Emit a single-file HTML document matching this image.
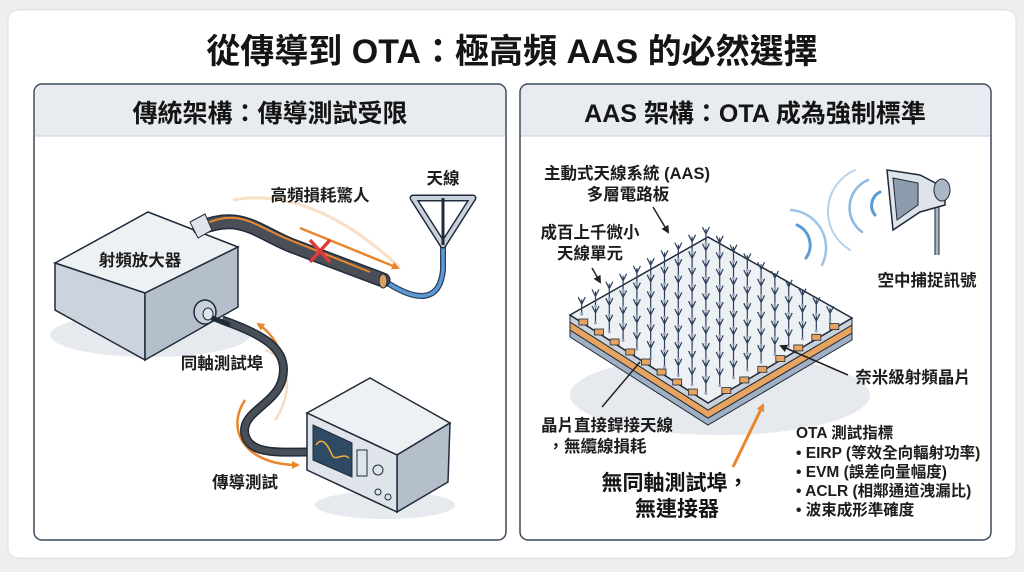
<!DOCTYPE html>
<html><head><meta charset="utf-8"><style>
html,body{margin:0;padding:0;background:#eceef0;}
svg{display:block;font-family:"Liberation Sans","Noto Sans CJK TC",sans-serif;}
.l{font-size:16.5px;font-weight:700;fill:#1d1d1d;}
</style></head><body>
<svg id="s" width="1024" height="572" viewBox="0 0 1024 572" xmlns="http://www.w3.org/2000/svg">
<defs>
<marker id="ao" markerWidth="8" markerHeight="8" refX="6" refY="4" orient="auto" markerUnits="userSpaceOnUse"><path d="M0,0 L8,4 L0,8 z" fill="#e8872e"/></marker>
<marker id="ak" markerWidth="8" markerHeight="8" refX="6" refY="4" orient="auto" markerUnits="userSpaceOnUse"><path d="M0,0 L8,4 L0,8 z" fill="#222"/></marker>
<g id="y"><path d="M0,0 V-15 M0,-10 L-3.5,-17 M0,-10 L3.5,-17" stroke="#2c3e5c" stroke-width="1.2" fill="none"/><circle cx="0" cy="0" r="1.5" fill="#9aa8b8"/></g>
</defs>
<rect x="8" y="10" width="1008" height="548" rx="10" fill="#fff" stroke="#dde0e3"/>
<text x="512" y="63" text-anchor="middle" font-size="34" font-weight="700" fill="#151515">從傳導到 OTA：極高頻 AAS 的必然選擇</text>

<rect x="34" y="84" width="472" height="456" rx="8" fill="#fff" stroke="#3c4a5c" stroke-width="1.5"/>
<path d="M35,136 V92 a7,7 0 0 1 7,-7 H498 a7,7 0 0 1 7,7 V136 z" fill="#e8ecf0"/>
<line x1="35" y1="136" x2="505" y2="136" stroke="#c7ced6"/>
<text x="270" y="122" text-anchor="middle" font-size="25" font-weight="700" fill="#151515">傳統架構：傳導測試受限</text>
<rect x="520" y="84" width="471" height="456" rx="8" fill="#fff" stroke="#3c4a5c" stroke-width="1.5"/>
<path d="M521,136 V92 a7,7 0 0 1 7,-7 H983 a7,7 0 0 1 7,7 V136 z" fill="#e8ecf0"/>
<line x1="521" y1="136" x2="990" y2="136" stroke="#c7ced6"/>
<text x="755" y="122" text-anchor="middle" font-size="25" font-weight="700" fill="#151515">AAS 架構：OTA 成為強制標準</text>

<!-- LEFT -->
<ellipse cx="150" cy="335" rx="100" ry="22" fill="#e6eaef"/>
<polygon points="55,263 148,212 238,247 145,293" fill="#eef1f4" stroke="#1f2a3a" stroke-width="1.5"/>
<polygon points="55,263 145,293 145,360 55,310" fill="#cbd3dc" stroke="#1f2a3a" stroke-width="1.5"/>
<polygon points="145,293 238,247 238,307 145,360" fill="#b4bfcb" stroke="#1f2a3a" stroke-width="1.5"/>
<text x="140" y="266" text-anchor="middle" class="l" font-size="17">射頻放大器</text>
<path d="M233,200 C300,188 360,230 400,268" fill="none" stroke="#f6d7b8" stroke-width="3" opacity=".8"/>
<path d="M300,228 L398,268" stroke="#e8872e" stroke-width="2.5" marker-end="url(#ao)"/>
<path d="M383,280 C420,305 440,300 443,270 L443,245" fill="none" stroke="#2c3e5c" stroke-width="6"/>
<path d="M383,280 C420,305 440,300 443,270 L443,245" fill="none" stroke="#5b9bd5" stroke-width="3.5"/>
<path d="M200,228 C240,212 255,230 290,245 L383,280" fill="none" stroke="#1f2a3a" stroke-width="15" stroke-linecap="round"/>
<path d="M200,228 C240,212 255,230 290,245 L383,280" fill="none" stroke="#4a4f57" stroke-width="12" stroke-linecap="round"/>
<path d="M205,224 C240,208 255,226 290,240 L370,272" fill="none" stroke="#e8872e" stroke-width="2"/>
<ellipse cx="383" cy="281" rx="4" ry="7" fill="#d9a066" stroke="#1f2a3a"/>
<polygon points="190,222 205,214 212,230 198,238" fill="#dfe4ea" stroke="#1f2a3a"/>
<path d="M310,240 L330,262 M330,240 L310,262" stroke="#e23a3a" stroke-width="3.5"/>
<text x="320" y="201" text-anchor="middle" class="l">高頻損耗驚人</text>
<polygon points="413,198 473,198 443,245" fill="none" stroke="#1f2a3a" stroke-width="7" stroke-linejoin="round"/>
<polygon points="413,198 473,198 443,245" fill="none" stroke="#c9d1da" stroke-width="4" stroke-linejoin="round"/>
<line x1="443" y1="198" x2="443" y2="245" stroke="#1f2a3a" stroke-width="3"/>
<text x="443" y="184" text-anchor="middle" class="l">天線</text>
<path d="M265,350 C295,360 290,400 275,420" fill="none" stroke="#e8872e" stroke-width="2.5" opacity=".3"/>
<path d="M285,380 C285,355 275,335 258,324" fill="none" stroke="#e8872e" stroke-width="2.5" marker-end="url(#ao)"/>
<path d="M245,400 C225,430 245,465 298,465" fill="none" stroke="#e8872e" stroke-width="2.5" marker-end="url(#ao)"/>
<path d="M222,320 C265,335 290,350 282,380 C275,405 240,412 245,435 C250,455 280,452 307,452" fill="none" stroke="#1f2a3a" stroke-width="9"/>
<path d="M222,320 C265,335 290,350 282,380 C275,405 240,412 245,435 C250,455 280,452 307,452" fill="none" stroke="#4a4f57" stroke-width="6"/>
<ellipse cx="205" cy="312" rx="11" ry="12" fill="#c9d1da" stroke="#1f2a3a" stroke-width="1.5"/>
<ellipse cx="208" cy="314" rx="5" ry="6" fill="#e1e6eb" stroke="#1f2a3a"/>
<line x1="212" y1="318" x2="230" y2="325" stroke="#1f2a3a" stroke-width="5"/>
<text x="222" y="369" text-anchor="middle" class="l">同軸測試埠</text>
<text x="245" y="488" text-anchor="middle" class="l">傳導測試</text>
<ellipse cx="385" cy="505" rx="70" ry="14" fill="#e6eaef"/>
<polygon points="307,413 370,378 450,423 397,455" fill="#eef1f4" stroke="#1f2a3a" stroke-width="1.5"/>
<polygon points="397,455 450,423 448,482 397,512" fill="#b4bfcb" stroke="#1f2a3a" stroke-width="1.5"/>
<polygon points="307,413 397,455 397,512 307,470" fill="#dfe4ea" stroke="#1f2a3a" stroke-width="1.5"/>
<polygon points="313,425 352,443 352,477 313,460" fill="#2f4a63" stroke="#1f2a3a"/>
<path d="M316,445 C322,436 328,445 332,455 C336,462 342,452 349,458" fill="none" stroke="#f0b030" stroke-width="1.5"/>
<g fill="none" stroke="#1f2a3a" stroke-width="1">
<rect x="357" y="450" width="10" height="26"/><circle cx="378" cy="470" r="5"/><circle cx="378" cy="492" r="3"/><circle cx="388" cy="497" r="3"/>
</g>

<!-- RIGHT -->
<text x="627" y="179" text-anchor="middle" class="l">主動式天線系統 (AAS)</text>
<text x="628" y="200" text-anchor="middle" class="l">多層電路板</text>
<text x="590" y="238" text-anchor="middle" class="l">成百上千微小</text>
<text x="590" y="259" text-anchor="middle" class="l">天線單元</text>
<ellipse cx="720" cy="395" rx="150" ry="40" fill="#e6eaef"/>
<polygon points="570,330 708,418 852,333 852,340 708,425 570,337" fill="#9fb0c2" stroke="#1f2a3a"/>
<polygon points="570,322 708,410 852,325 852,333 708,418 570,330" fill="#e6a460" stroke="#1f2a3a"/>
<polygon points="570,315 708,403 852,318 852,325 708,410 570,322" fill="#c9d1da" stroke="#1f2a3a"/>
<polygon points="570,315 708,237 852,318 708,403" fill="#eef1f4" stroke="#1f2a3a" stroke-width="1.5"/>
<g id="grid"></g>
<line x1="653" y1="207" x2="668" y2="232" stroke="#222" stroke-width="1.5" marker-end="url(#ak)"/>
<line x1="592" y1="268" x2="600" y2="282" stroke="#222" stroke-width="1.5" marker-end="url(#ak)"/>
<line x1="848" y1="375" x2="781" y2="346" stroke="#222" stroke-width="1.5" marker-end="url(#ak)"/>
<line x1="602" y1="407" x2="640" y2="362" stroke="#222" stroke-width="1.5"/>
<text x="913" y="383" text-anchor="middle" class="l">奈米級射頻晶片</text>
<text x="607" y="431" text-anchor="middle" class="l">晶片直接銲接天線</text>
<text x="597" y="452" text-anchor="middle" class="l">，無纜線損耗</text>
<line x1="733" y1="467" x2="763" y2="405" stroke="#e8872e" stroke-width="3" marker-end="url(#ao)"/>
<text x="675" y="490" text-anchor="middle" font-size="21" font-weight="700" fill="#151515">無同軸測試埠，</text>
<text x="677" y="516" text-anchor="middle" font-size="21" font-weight="700" fill="#151515">無連接器</text>
<g font-size="15.5" font-weight="700" fill="#1d1d1d">
<text x="796" y="438">OTA 測試指標</text>
<text x="796" y="458">•  EIRP (等效全向輻射功率)</text>
<text x="796" y="477">•  EVM (誤差向量幅度)</text>
<text x="796" y="496">•  ACLR (相鄰通道洩漏比)</text>
<text x="796" y="515">•  波束成形準確度</text>
</g>
<g fill="none" stroke="#5b9bd5" stroke-linecap="round">
<path d="M797,225 A22,22 0 0 1 806,258" stroke-width="3"/>
<path d="M791,210 A38,38 0 0 1 822,265" stroke-width="2.5" opacity=".6"/>
<path d="M880,192 A15,15 0 0 0 875,215" stroke-width="3"/>
<path d="M868,180 A30,30 0 0 0 862,232" stroke-width="2.5" opacity=".7"/>
<path d="M855,170 A45,45 0 0 0 850,250" stroke-width="2" opacity=".45"/>
</g>
<line x1="937" y1="190" x2="937" y2="255" stroke="#1f2a3a" stroke-width="5"/>
<line x1="937" y1="190" x2="937" y2="255" stroke="#a9b6c4" stroke-width="3"/>
<polygon points="887,170 920,175 945,188 945,205 920,212 893,230" fill="#dfe4ea" stroke="#1f2a3a" stroke-width="1.5"/>
<polygon points="893,178 918,183 918,205 897,220" fill="#8d9cad" stroke="#1f2a3a"/>
<ellipse cx="942" cy="190" rx="8" ry="11" fill="#a9b6c4" stroke="#1f2a3a"/>
<text x="927" y="286" text-anchor="middle" class="l">空中捕捉訊號</text>
</svg>
<script>
var g=document.getElementById('grid'),N=10,h='';
for(var i=0;i<N;i++)for(var j=0;j<N;j++){
 var a=(i+0.5)/N,b=(j+0.35)/N;
 var x=570+138*a+138*b,y=315-78*a+88*b;
 h+='<use href="#y" x="'+x.toFixed(1)+'" y="'+y.toFixed(1)+'"/>';
}
for(var k=0;k<8;k++){var t=(k+0.5)/8.5,x=575+133*t,y=320+85*t-3;h+='<rect x="'+(x-4)+'" y="'+(y-3)+'" width="9" height="6" fill="#e6a460" stroke="#1f2a3a" stroke-width=".8"/>';}
for(var k=0;k<7;k++){var t=(k+0.6)/7.5,x=715+135*t,y=400-80*t-3;h+='<rect x="'+(x-4)+'" y="'+(y-3)+'" width="9" height="6" fill="#e6a460" stroke="#1f2a3a" stroke-width=".8"/>';}
g.innerHTML=h;
</script>
</body></html>
